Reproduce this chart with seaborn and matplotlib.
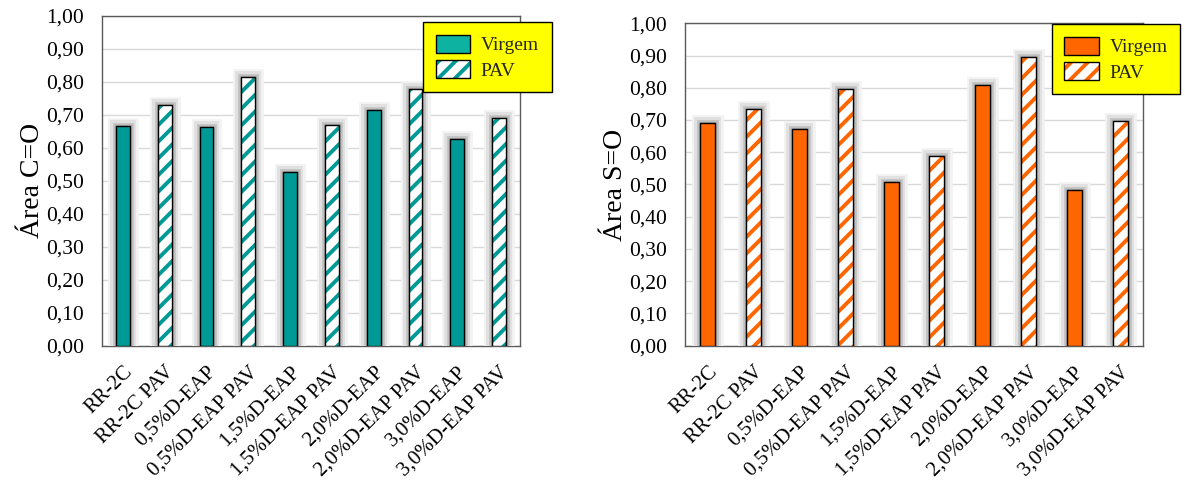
import matplotlib
matplotlib.use("Agg")
import matplotlib.pyplot as plt
import matplotlib.patheffects as pe
from matplotlib.patches import Patch, Rectangle
from matplotlib.ticker import FuncFormatter
import seaborn as sns
import pandas as pd

categories = ["RR-2C", "RR-2C PAV", "0,5%D-EAP", "0,5%D-EAP PAV", "1,5%D-EAP",
              "1,5%D-EAP PAV", "2,0%D-EAP", "2,0%D-EAP PAV", "3,0%D-EAP", "3,0%D-EAP PAV"]
area_co = [0.667, 0.728, 0.664, 0.814, 0.525, 0.668, 0.715, 0.777, 0.625, 0.689]
area_so = [0.692, 0.734, 0.671, 0.796, 0.507, 0.589, 0.810, 0.894, 0.484, 0.698]
legend_labels = ["Virgem", "PAV"]
y_ticks = [0.0, 0.1, 0.2, 0.3, 0.4, 0.5, 0.6, 0.7, 0.8, 0.9, 1.0]

sns.set_theme(style="white")
plt.rcParams["font.family"] = ["Liberation Serif", "DejaVu Serif"]
plt.rcParams["hatch.linewidth"] = 2.8

W, H = 1185, 483
fig = plt.figure(figsize=(W / 100, H / 100), dpi=100)
ax1 = fig.add_axes([102 / W, 1 - 345.7 / H, 418 / W, 330 / H])
ax2 = fig.add_axes([685 / W, 1 - 345.7 / H, 458 / W, 322.4 / H])

shadow = [pe.Stroke(linewidth=12, foreground="#f2f2f2", joinstyle="miter"),
          pe.Stroke(linewidth=8.5, foreground="#e0e0e0", joinstyle="miter"),
          pe.Stroke(linewidth=5, foreground="#c6c6c6", joinstyle="miter"),
          pe.Stroke(linewidth=2.5, foreground="#aaaaaa", joinstyle="miter"),
          pe.Normal()]


def draw(ax, values, color, legend_color, ylabel, anchor):
    df = pd.DataFrame({"cat": categories, "val": values})
    sns.barplot(data=df, x="cat", y="val", color=color, saturation=1, width=0.33,
                edgecolor="black", linewidth=1.0, errorbar=None, ax=ax, zorder=3)
    patches = list(ax.patches)
    for i, p in enumerate(patches):
        p.set_path_effects(shadow)
        if i % 2 == 1:
            p.set_facecolor("white")
            p.set_edgecolor(color)
            p.set_hatch("//")
            p.set_linewidth(0)
            ax.add_patch(Rectangle((p.get_x(), p.get_y()), p.get_width(), p.get_height(),
                                   fill=False, edgecolor="black", lw=1.0, zorder=4))
    ax.set_xlim(-0.5, len(categories) - 0.5)
    ax.set_ylim(0, 1)
    ax.set_yticks(y_ticks)
    ax.yaxis.set_major_formatter(FuncFormatter(lambda v, _: f"{v:.2f}".replace(".", ",")))
    ax.yaxis.grid(True, color="#d9d9d9", lw=1.0)
    ax.set_axisbelow(True)
    ax.set_xticks(range(len(categories)))
    ax.set_xticklabels(categories, rotation=45, ha="right", va="top",
                       rotation_mode="anchor", fontsize=15)
    ax.tick_params(axis="x", length=0, pad=12)
    ax.tick_params(axis="y", length=0, pad=13, labelsize=15.5)
    for lab in ax.get_yticklabels():
        lab.set_color("black")
    for lab in ax.get_xticklabels():
        lab.set_color("black")
    ax.set_xlabel("")
    ax.set_ylabel(ylabel, fontsize=20, labelpad=1, color="black")
    for s in ax.spines.values():
        s.set_color("#5a5a5a")
        s.set_linewidth(1.0)
    handles = [Patch(facecolor=legend_color, edgecolor="black", lw=1.0),
               (Patch(facecolor="white", edgecolor=color, hatch="//", lw=0),
                Patch(fill=False, edgecolor="black", lw=1.0))]
    leg = ax.legend(handles, legend_labels, loc="upper left", bbox_to_anchor=anchor,
                    frameon=True, fancybox=False, facecolor="#ffff00", edgecolor="black",
                    framealpha=1, borderpad=0.65, handlelength=1.75, handleheight=1.05,
                    handletextpad=0.57, labelspacing=0.3, borderaxespad=0,
                    prop={"family": "Liberation Serif", "size": 14})
    leg.get_frame().set_linewidth(1.0)
    leg.set_zorder(10)


draw(ax1, area_co, "#009a96", "#0db3a0", "Área C=O", (0.768, 0.981))
draw(ax2, area_so, "#ff6600", "#ff6600", "Área S=O", (0.801, 0.998))

fig.savefig("out.png", dpi=100)
